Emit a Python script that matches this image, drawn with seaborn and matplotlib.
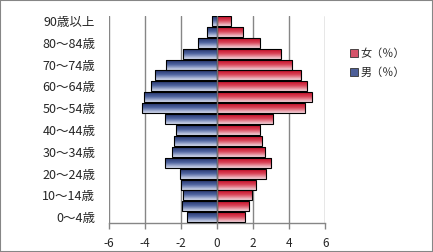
import numpy as np
import pandas as pd
import matplotlib
matplotlib.use("Agg")
import matplotlib.pyplot as plt
import seaborn as sns
from matplotlib.colors import LinearSegmentedColormap
from matplotlib.patches import Patch, Rectangle

# ---- data (bottom to top) ----
ages = ["0～4歳", "5～9歳", "10～14歳", "15～19歳", "20～24歳", "25～29歳",
        "30～34歳", "35～39歳", "40～44歳", "45～49歳", "50～54歳", "55～59歳",
        "60～64歳", "65～69歳", "70～74歳", "75～79歳", "80～84歳", "85～89歳",
        "90歳以上"]
male = [1.63, 1.92, 1.86, 1.97, 2.07, 2.90, 2.46, 2.35, 2.27, 2.88,
        4.12, 4.04, 3.65, 3.40, 2.82, 1.85, 1.07, 0.55, 0.28]
female = [1.53, 1.75, 1.94, 2.14, 2.71, 3.02, 2.69, 2.47, 2.41, 3.13,
          4.85, 5.24, 4.96, 4.63, 4.18, 3.54, 2.36, 1.47, 0.77]
xticks = [-6, -4, -2, 0, 2, 4, 6]
shown_labels = ages[::2]
legend_labels = ["女（％）", "男（％）"]

sns.set_theme(style="white")
plt.rcParams['font.family'] = ['Noto Sans CJK JP', 'DejaVu Sans']

df = pd.DataFrame({"age": ages, "male": [-v for v in male], "female": female})
order = ages[::-1]

fig = plt.figure(figsize=(4.33, 2.52), dpi=100)
ax = fig.add_axes([108.5 / 433, 29.3 / 252, 216.8 / 433, 207.2 / 252])

sns.barplot(data=df, y="age", x="male", order=order, orient="h",
            color="#3a4f8f", width=0.92, errorbar=None, ax=ax, zorder=3)
sns.barplot(data=df, y="age", x="female", order=order, orient="h",
            color="#c8283c", width=0.92, errorbar=None, ax=ax, zorder=3)

blue_cmap = LinearSegmentedColormap.from_list("b", ["#1c2a60", "#4f64a0", "#d6ddef"])
red_cmap = LinearSegmentedColormap.from_list("r", ["#c2001c", "#d84458", "#f4d6dc"])
grad = np.linspace(0, 1, 64).reshape(-1, 1)
for container, cmap in zip(ax.containers, [blue_cmap, red_cmap]):
    for bar in container:
        x0, y0 = bar.get_xy()
        w, h = bar.get_width(), bar.get_height()
        xl, xr = min(x0, x0 + w), max(x0, x0 + w)
        im = ax.imshow(grad, cmap=cmap, aspect='auto', extent=(xl, xr, y0 + h, y0),
                       origin='upper', zorder=2.5, interpolation='bilinear')
        im.set_clip_path(bar)
        bar.set_facecolor('none')
        bar.set_edgecolor('black')
        bar.set_linewidth(0.8)

ax.set_xlim(-6, 6)
ax.set_ylim(len(order) - 0.5, -0.5)
ax.set_xticks(xticks)
ax.set_xticklabels([str(t) for t in xticks])
ax.set_yticks([order.index(l) for l in shown_labels])
ax.set_yticklabels(shown_labels)
ax.set_xlabel("")
ax.set_ylabel("")

ax.xaxis.grid(True, color='#868686', lw=1)
ax.yaxis.grid(False)
ax.set_axisbelow(True)
ax.axvline(0, color='#707070', lw=1, zorder=4)
for s in ['top', 'right', 'left']:
    ax.spines[s].set_visible(False)
ax.spines['bottom'].set_color('#868686')
ax.spines['bottom'].set_linewidth(1)
ax.tick_params(axis='x', direction='out', length=4, width=1, color='#868686',
               labelsize=8.5, pad=6, bottom=True)
ax.tick_params(axis='y', length=0, labelsize=9, pad=9.5)

handles = [Patch(facecolor='#d4546a', edgecolor='#333333', lw=0.6),
           Patch(facecolor='#4d5f98', edgecolor='#333333', lw=0.6)]
fig.legend(handles, legend_labels, loc='center left',
           bbox_to_anchor=(350 / 433, 1 - 63 / 252), frameon=False, fontsize=8,
           handlelength=0.7, handleheight=0.7, handletextpad=0.25,
           labelspacing=0.8, borderaxespad=0, borderpad=0)

fig.patches.append(Rectangle((0, 0), 1, 1, transform=fig.transFigure, fill=False,
                             edgecolor='#868686', lw=1.5))

fig.savefig('out.png', dpi=100)
